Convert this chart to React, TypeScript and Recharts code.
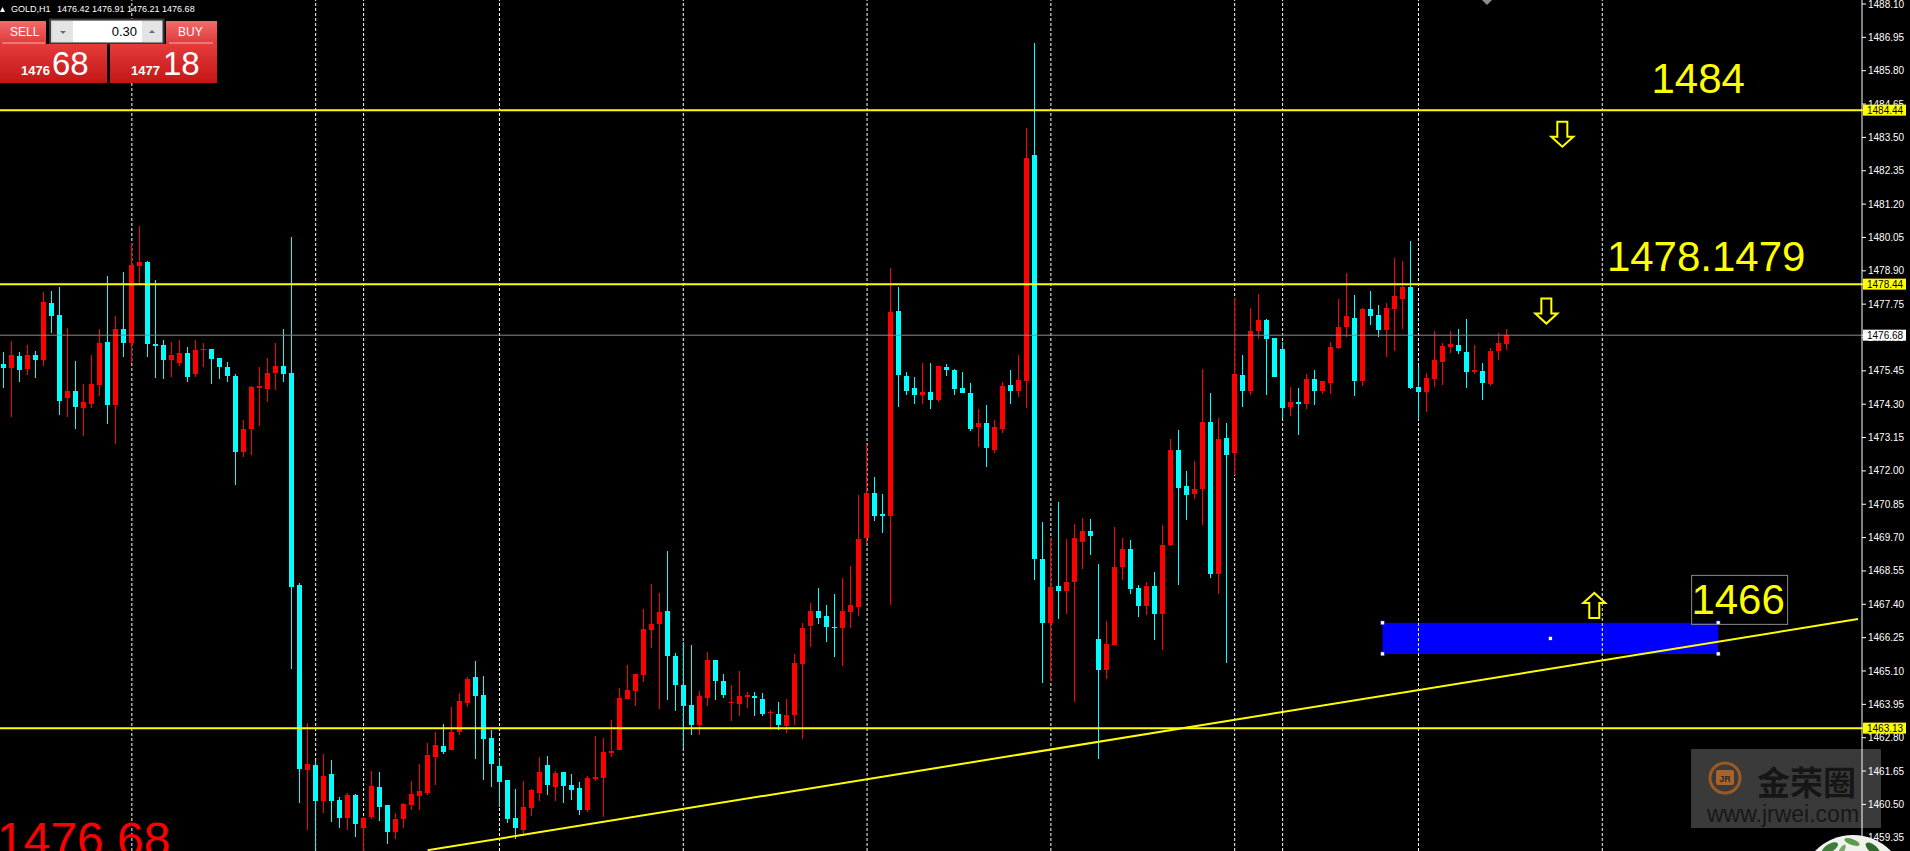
import React from 'react';
import {
  ComposedChart,
  Bar,
  XAxis,
  YAxis,
  ReferenceLine,
  ReferenceArea,
  ReferenceDot,
} from 'recharts';

const W = 1910;
const H = 851;
const FONT = '"Liberation Sans", Arial, sans-serif';

// GOLD H1 candles, oldest first
const openPrices = [
  1475.68, 1475.56, 1475.96, 1475.51, 1475.99, 1475.82, 1477.79, 1477.37, 1474.52, 1474.75,
  1474.18, 1474.32, 1474.97, 1476.43, 1474.28, 1476.9, 1476.41, 1479.08, 1479.2, 1476.38,
  1476.33, 1475.83, 1475.73, 1476.07, 1475.35, 1476.18, 1476.2, 1475.89, 1475.58, 1475.27,
  1472.66, 1473.44, 1474.86, 1474.84, 1475.38, 1475.61, 1475.38, 1468.07, 1461.69, 1461.86,
  1460.63, 1461.55, 1460.65, 1460.04, 1460.83, 1459.7, 1460.08, 1461.1, 1460.48, 1459.56,
  1459.98, 1460.48, 1460.79, 1460.89, 1462.14, 1462.52, 1462.38, 1463.0, 1464.0, 1464.9,
  1464.28, 1462.79, 1461.83, 1461.34, 1460.03, 1459.63, 1460.39, 1460.91, 1461.86, 1461.1,
  1461.62, 1461.17, 1461.07, 1460.32, 1461.38, 1461.41, 1462.27, 1462.38, 1464.14, 1464.41,
  1464.96, 1466.52, 1466.72, 1467.17, 1465.62, 1464.62, 1463.92, 1463.25, 1464.18, 1465.47,
  1464.77, 1464.0, 1463.97, 1464.19, 1464.25, 1464.14, 1463.65, 1463.63, 1463.19, 1463.59,
  1465.35, 1466.66, 1467.17, 1466.99, 1466.63, 1466.57, 1467.12, 1467.32, 1469.68, 1471.25,
  1470.5, 1470.46, 1477.52, 1475.27, 1474.87, 1474.63, 1474.72, 1474.43, 1475.58, 1475.49,
  1474.87, 1474.68, 1473.5, 1473.66, 1472.73, 1473.46, 1474.96, 1474.74, 1475.11, 1482.89,
  1468.95, 1466.77, 1468.03, 1467.87, 1468.18, 1469.55, 1469.93, 1466.2, 1465.13, 1466.01,
  1468.69, 1469.31, 1467.96, 1467.33, 1468.04, 1467.06, 1469.45, 1472.72, 1471.48, 1471.21,
  1471.39, 1473.69, 1468.45, 1473.13, 1472.61, 1475.31, 1474.76, 1476.83, 1477.21, 1476.59,
  1476.21, 1474.22, 1474.37, 1474.32, 1475.18, 1474.76, 1475.03, 1476.25, 1476.96, 1477.28,
  1475.1, 1477.58, 1477.38, 1476.87, 1477.58, 1477.94, 1478.35, 1474.9, 1474.73, 1475.18,
  1475.76, 1476.27, 1476.34, 1476.1, 1475.42, 1475.44, 1474.99, 1476.14, 1476.38,
];
const highPrices = [
  1476.1, 1476.48, 1476.1, 1476.34, 1476.13, 1478.17, 1478.2, 1478.34, 1476.92, 1475.79,
  1474.99, 1475.99, 1476.88, 1478.72, 1477.34, 1478.86, 1479.86, 1480.45, 1479.24, 1478.58,
  1476.51, 1476.44, 1476.51, 1476.28, 1476.51, 1476.41, 1476.2, 1475.89, 1475.74, 1475.33,
  1473.75, 1474.92, 1475.57, 1475.89, 1476.41, 1476.9, 1480.07, 1468.13, 1463.3, 1461.99,
  1462.24, 1462.03, 1460.75, 1460.89, 1460.87, 1460.08, 1461.65, 1461.62, 1460.48, 1460.22,
  1460.56, 1461.31, 1461.9, 1462.62, 1463.0, 1463.28, 1463.86, 1464.33, 1464.9, 1465.45,
  1464.93, 1463.07, 1462.1, 1461.34, 1461.03, 1461.31, 1461.03, 1462.14, 1462.17, 1461.65,
  1461.62, 1461.55, 1461.28, 1461.48, 1462.86, 1462.79, 1463.41, 1464.52, 1465.31, 1465.0,
  1467.24, 1468.1, 1467.79, 1469.24, 1465.72, 1466.09, 1465.98, 1464.4, 1465.75, 1465.47,
  1464.99, 1464.62, 1465.11, 1464.38, 1464.38, 1464.34, 1463.76, 1464.03, 1464.14, 1465.68,
  1466.75, 1467.45, 1467.96, 1467.37, 1467.76, 1468.31, 1468.73, 1471.18, 1472.93, 1471.8,
  1471.21, 1478.99, 1478.34, 1475.42, 1475.23, 1475.73, 1475.73, 1475.62, 1475.69, 1475.52,
  1475.42, 1475.03, 1474.14, 1474.28, 1473.75, 1475.07, 1475.49, 1476.0, 1483.82, 1486.76,
  1470.24, 1469.68, 1470.94, 1469.66, 1470.17, 1470.37, 1470.34, 1468.8, 1466.83, 1470.07,
  1469.68, 1469.61, 1468.05, 1468.16, 1468.51, 1470.14, 1473.11, 1473.41, 1471.98, 1472.35,
  1475.52, 1474.69, 1473.83, 1473.66, 1477.95, 1476.0, 1477.62, 1478.11, 1477.25, 1476.59,
  1476.45, 1474.9, 1474.86, 1475.35, 1475.48, 1475.1, 1476.45, 1477.94, 1478.83, 1478.07,
  1477.62, 1478.21, 1477.73, 1477.79, 1479.35, 1479.24, 1479.93, 1475.61, 1475.38, 1476.83,
  1476.42, 1476.83, 1476.89, 1477.24, 1476.34, 1475.72, 1476.25, 1476.76, 1476.89,
];
const lowPrices = [
  1474.87, 1473.87, 1475.07, 1475.3, 1475.21, 1475.63, 1476.76, 1473.94, 1473.87, 1473.45,
  1473.21, 1474.18, 1474.59, 1473.62, 1472.94, 1475.94, 1475.73, 1478.41, 1475.94, 1475.21,
  1475.17, 1475.24, 1475.6, 1475.05, 1475.24, 1475.57, 1475.01, 1475.18, 1475.05, 1471.52,
  1472.47, 1472.56, 1473.55, 1474.36, 1474.8, 1475.05, 1465.18, 1460.56, 1459.6, 1458.8,
  1460.22, 1459.91, 1459.67, 1459.6, 1459.36, 1458.8, 1460.01, 1459.94, 1459.15, 1459.29,
  1459.7, 1460.32, 1460.29, 1460.83, 1461.17, 1462.24, 1462.38, 1462.9, 1463.86, 1462.07,
  1461.34, 1461.1, 1460.41, 1459.86, 1459.29, 1459.42, 1460.11, 1460.6, 1460.83, 1460.63,
  1460.56, 1460.65, 1460.15, 1460.25, 1461.31, 1460.07, 1462.14, 1462.38, 1464.14, 1463.9,
  1464.72, 1465.9, 1463.79, 1464.1, 1463.73, 1462.45, 1462.88, 1462.88, 1463.91, 1464.1,
  1464.18, 1463.39, 1463.56, 1463.83, 1463.54, 1463.54, 1463.06, 1463.06, 1462.97, 1463.24,
  1462.75, 1465.93, 1466.72, 1466.11, 1465.57, 1465.26, 1466.57, 1466.99, 1469.5, 1470.26,
  1469.86, 1467.39, 1474.21, 1474.61, 1474.32, 1474.32, 1474.15, 1474.39, 1475.27, 1474.61,
  1474.67, 1473.37, 1472.84, 1472.13, 1472.6, 1473.3, 1474.3, 1474.56, 1474.17, 1468.25,
  1464.67, 1464.76, 1466.88, 1467.08, 1464.03, 1468.6, 1469.09, 1462.06, 1464.83, 1466.0,
  1468.25, 1467.74, 1466.97, 1467.04, 1466.18, 1465.81, 1469.41, 1468.07, 1470.32, 1471.04,
  1470.14, 1468.32, 1467.74, 1465.39, 1471.85, 1474.2, 1474.6, 1476.56, 1474.6, 1475.24,
  1473.83, 1473.9, 1473.23, 1474.14, 1474.28, 1474.66, 1474.66, 1476.22, 1476.62, 1474.57,
  1474.92, 1477.04, 1476.62, 1475.93, 1476.14, 1476.91, 1474.81, 1473.79, 1474.03, 1474.9,
  1474.97, 1476.08, 1476.04, 1474.86, 1475.35, 1474.45, 1474.93, 1475.83, 1476.18,
];
const closePrices = [
  1475.55, 1475.99, 1475.48, 1475.99, 1475.82, 1477.82, 1477.34, 1474.42, 1474.75, 1474.21,
  1474.37, 1474.99, 1476.41, 1474.28, 1476.89, 1476.41, 1479.09, 1479.2, 1476.39, 1476.29,
  1475.83, 1475.99, 1476.07, 1475.24, 1476.17, 1476.2, 1475.86, 1475.57, 1475.26, 1472.66,
  1473.44, 1474.89, 1474.92, 1475.38, 1475.61, 1475.35, 1467.98, 1461.72, 1461.89, 1460.63,
  1461.48, 1460.63, 1460.04, 1460.83, 1459.84, 1460.03, 1461.14, 1460.42, 1459.56, 1460.0,
  1460.52, 1460.86, 1460.96, 1462.21, 1462.55, 1462.31, 1463.0, 1464.07, 1464.83, 1464.24,
  1462.76, 1461.9, 1461.28, 1460.0, 1459.7, 1460.41, 1461.0, 1461.62, 1461.17, 1461.58,
  1461.14, 1461.0, 1460.32, 1461.41, 1461.45, 1462.31, 1462.34, 1464.17, 1464.45, 1465.0,
  1466.55, 1466.72, 1467.14, 1465.62, 1464.62, 1463.88, 1463.25, 1464.25, 1465.47, 1464.74,
  1464.28, 1464.03, 1464.25, 1464.27, 1464.16, 1463.61, 1463.7, 1463.24, 1463.59, 1465.38,
  1466.59, 1467.17, 1466.94, 1466.63, 1466.57, 1467.17, 1467.36, 1469.64, 1471.23, 1470.46,
  1470.44, 1477.48, 1475.29, 1474.74, 1474.63, 1474.72, 1474.43, 1475.62, 1475.47, 1474.81,
  1474.67, 1473.46, 1473.66, 1472.78, 1473.51, 1474.92, 1474.74, 1475.14, 1482.8, 1468.95,
  1466.77, 1467.99, 1467.87, 1468.18, 1469.7, 1469.93, 1469.77, 1465.13, 1466.04, 1468.69,
  1469.31, 1467.93, 1467.33, 1468.04, 1467.06, 1469.45, 1472.72, 1471.42, 1471.17, 1471.39,
  1473.69, 1468.45, 1473.11, 1472.55, 1475.35, 1474.76, 1476.83, 1477.21, 1476.56, 1475.24,
  1474.18, 1474.37, 1474.32, 1475.18, 1474.76, 1475.1, 1476.27, 1476.96, 1477.34, 1475.1,
  1477.58, 1477.34, 1476.87, 1477.62, 1478.03, 1478.35, 1474.86, 1474.73, 1475.21, 1475.83,
  1476.31, 1476.38, 1476.14, 1475.42, 1475.48, 1475.03, 1476.14, 1476.42, 1476.68,
];

// empty hourly slots to the right of the last bar (chart shift)
const FUTURE_SLOTS = 44;

const priceTicks = [
  1488.1, 1486.95, 1485.8, 1484.65, 1483.5, 1482.35, 1481.2, 1480.05, 1478.9, 1477.75,
  1476.6, 1475.45, 1474.3, 1473.15, 1472.0, 1470.85, 1469.7, 1468.55, 1467.4, 1466.25,
  1465.1, 1463.95, 1462.8, 1461.65, 1460.5, 1459.35,
];
const PRICE_MIN = 1458.893;
const PRICE_MAX = 1488.238;

// bar indexes where the time grid falls
const gridBars = [16, 39, 45, 62, 85, 108, 131, 154, 160, 177, 200];

const resistanceHigh = 1484.44;
const resistanceLow = 1478.44;
const supportLine = 1463.13;
const bidPrice = 1476.68;

// price tags drawn on the axis
const tagPrices = [bidPrice, resistanceHigh, resistanceLow, supportLine];
const tagColors = ['#ffffff', '#ffff00', '#ffff00', '#ffff00'];

const trendStart = { i: 53, p: 1458.92 };
const trendEnd = { i: 232, p: 1466.89 };

const zoneFrom = 173;
const zoneTo = 214;
const zoneLow = 1465.69;
const zoneHigh = 1466.76;

const arrowMarks = [
  { i: 195, p: 1483.61, dir: 'down' },
  { i: 193, p: 1477.51, dir: 'down' },
  { i: 199, p: 1467.36, dir: 'up' },
];
const noteMarks = [
  { i: 212, p: 1485.02, text: '1484', boxed: false },
  { i: 213, p: 1478.9, text: '1478.1479', boxed: false },
  { i: 217, p: 1467.07, text: '1466', boxed: true },
];

const rows = [
  ...openPrices.map((o, i) => ({ i, o, h: highPrices[i], l: lowPrices[i], c: closePrices[i] })),
  ...Array.from({ length: FUTURE_SLOTS }, (_, k) => ({ i: openPrices.length + k, o: null, h: null, l: null, c: null })),
];

function Candle(props: any) {
  const { x, y, width, height, payload } = props;
  if (!payload || payload.o == null) return null;
  const top = Math.min(y, y + height);
  const span = Math.abs(height);
  const k = span / (payload.h - payload.l);
  const up = payload.c >= payload.o;
  const color = up ? '#ff0000' : '#00ffff';
  const cx = Math.floor(x + width / 2);
  const bodyTop = top + (payload.h - Math.max(payload.o, payload.c)) * k;
  const bodyH = Math.max(1, Math.abs(payload.c - payload.o) * k);
  return (
    <g shapeRendering="crispEdges">
      <rect x={cx} y={top} width={1} height={Math.max(1, span)} fill={color} />
      <rect x={cx - 2} y={bodyTop} width={5} height={bodyH} fill={color} />
    </g>
  );
}

function PriceTick(props: any) {
  const { x, y, payload } = props;
  const v = payload.value as number;
  const t = tagPrices.indexOf(v);
  if (t >= 0) {
    return (
      <g>
        <rect x={x - 5} y={y - 5.5} width={43} height={11} fill={tagColors[t]} />
        <text x={x - 1} y={y + 3.5} fontSize={10} fontFamily={FONT} fill="#000">
          {v.toFixed(2)}
        </text>
      </g>
    );
  }
  return (
    <text x={x} y={y} dy="0.355em" fontSize={10} fontFamily={FONT} fill="#ffffff">
      {v.toFixed(2)}
    </text>
  );
}

function Arrow({ cx, cy, dir }: { cx: number; cy: number; dir: string }) {
  const s = dir === 'down' ? 1 : -1;
  const t = cy - 12.5 * s;
  const m = cy + 2.5 * s;
  const b = cy + 12.5 * s;
  const d = `M${cx - 5},${t} L${cx + 5},${t} L${cx + 5},${m} L${cx + 11},${m} L${cx},${b} L${cx - 11},${m} L${cx - 5},${m} Z`;
  return <path d={d} fill="#000" stroke="#ffff00" strokeWidth={2} strokeLinejoin="miter" />;
}

function Note({ cx, cy, text, boxed }: { cx: number; cy: number; text: string; boxed: boolean }) {
  return (
    <g>
      {boxed && <rect x={cx - 46.5} y={cy - 38.5} width={96} height={49} fill="none" stroke="#8a8a8a" strokeWidth={1} />}
      <text x={cx} y={cy} textAnchor="middle" fontSize={42} fontFamily={FONT} fill="#ffff00">
        {text}
      </text>
    </g>
  );
}

function Zone(props: any) {
  const { x, y, width, height } = props;
  const pts = [
    [x, y],
    [x, y + height],
    [x + width, y],
    [x + width, y + height],
    [x + width / 2, y + height / 2],
  ];
  return (
    <g>
      <rect x={x} y={y} width={width} height={height} fill="#0000ff" />
      {pts.map(([px, py], n) => (
        <rect key={n} x={px - 2} y={py - 2} width={4} height={4} fill="#ffffff" stroke="#0000a0" strokeWidth={0.6} />
      ))}
    </g>
  );
}

function TradePanel() {
  return (
    <g fontFamily={FONT}>
      <defs>
        <linearGradient id="btnRed" x1="0" y1="0" x2="0" y2="1">
          <stop offset="0" stopColor="#f46a6a" />
          <stop offset="1" stopColor="#dd3a3a" />
        </linearGradient>
        <linearGradient id="boxRed" x1="0" y1="0" x2="0" y2="1">
          <stop offset="0" stopColor="#e53b3b" />
          <stop offset="1" stopColor="#c41616" />
        </linearGradient>
      </defs>
      <rect x={0} y={21} width={46} height={23} fill="url(#btnRed)" />
      <line x1={2} y1={43} x2={45} y2={43} stroke="#f7b0b0" />
      <text x={10} y={36} fontSize={12} fill="#fff">SELL</text>
      <rect x={50} y={19.5} width={113.5} height={24} fill="#d9d9d9" stroke="#3a3a3a" strokeWidth={2} />
      <rect x={53} y={21.5} width={20} height={20} fill="#e4e4e4" />
      <path d="M60,31 L66,31 L63,34 Z" fill="#5a6b8c" />
      <rect x={73} y={21} width={69} height={21} fill="#ffffff" />
      <text x={137} y={36} fontSize={13} fill="#000" textAnchor="end">0.30</text>
      <rect x={142} y={21.5} width={20} height={20} fill="#e4e4e4" />
      <path d="M149,33 L155,33 L152,30 Z" fill="#5a6b8c" />
      <rect x={166} y={21} width={51} height={23} fill="url(#btnRed)" />
      <line x1={169} y1={43} x2={213} y2={43} stroke="#f7b0b0" />
      <text x={178} y={36} fontSize={12} fill="#fff">BUY</text>
      <rect x={0} y={44} width={107} height={39} fill="url(#boxRed)" />
      <text x={21} y={75} fontSize={13} fontWeight="bold" fill="#fff">1476</text>
      <text x={52} y={75} fontSize={33} fill="#fff">68</text>
      <rect x={110} y={44} width={107} height={39} fill="url(#boxRed)" />
      <text x={131} y={75} fontSize={13} fontWeight="bold" fill="#fff">1477</text>
      <text x={163} y={75} fontSize={33} fill="#fff">18</text>
    </g>
  );
}

export default function App() {
  return (
    <div style={{ position: 'absolute', left: 0, top: 0, width: W, height: H, background: '#000', overflow: 'hidden' }}>
      <svg width={W} height={H} style={{ position: 'absolute', left: 0, top: 0 }}>
        <rect x={1691} y={749} width={190} height={79} fill="#3a3a3a" />
        <circle cx={1725} cy={778} r={15} fill="none" stroke="#9a5a22" strokeWidth={3} />
        <rect x={1716} y={770} width={18} height={15} rx={2} fill="#a8642a" />
        <text x={1725} y={782} fontSize={9} fontWeight="bold" textAnchor="middle" fill="#2a2a2a" fontFamily={FONT}>JR</text>
        <text x={1757} y={795} fontSize={33} fontWeight="bold" fill="#161616" fontFamily='"Noto Sans CJK SC", sans-serif'>金荣圈</text>
        <text x={1707} y={822} fontSize={23} fill="#181818" fontFamily={FONT}>www.jrwei.com</text>
      </svg>
      <div style={{ position: 'absolute', left: 0, top: 0 }}>
        <ComposedChart width={W} height={H} data={rows} margin={{ top: 0, right: 0, bottom: 0, left: 0 }}>
          <XAxis dataKey="i" type="category" hide />
          <YAxis
            orientation="right"
            width={48}
            domain={[PRICE_MIN, PRICE_MAX]}
            allowDataOverflow
            ticks={[...priceTicks, ...tagPrices]}
            interval={0}
            tick={PriceTick}
            tickLine={{ stroke: '#ffffff' }}
            axisLine={{ stroke: '#ffffff' }}
            tickSize={4}
            tickMargin={2}
          />
          <ReferenceArea x1={zoneFrom} x2={zoneTo} y1={zoneLow} y2={zoneHigh} shape={Zone} zIndex={-80} />
          {gridBars.map((g) => (
            <ReferenceLine key={`g${g}`} x={g} stroke="#ffffff" strokeDasharray="3 2" strokeWidth={1} zIndex={-60} />
          ))}
          <Bar
            dataKey={(d: any) => (d.o == null ? null : [d.l, d.h])}
            isAnimationActive={false}
            shape={Candle}
          />
          <ReferenceLine y={bidPrice} stroke="#8c8c8c" strokeWidth={1} />
          <ReferenceLine y={resistanceHigh} stroke="#ffff00" strokeWidth={2} />
          <ReferenceLine y={resistanceLow} stroke="#ffff00" strokeWidth={2} />
          <ReferenceLine y={supportLine} stroke="#ffff00" strokeWidth={2} />
          <ReferenceLine
            segment={[
              { x: trendStart.i, y: trendStart.p },
              { x: trendEnd.i, y: trendEnd.p },
            ]}
            stroke="#ffff00"
            strokeWidth={2}
            ifOverflow="hidden"
          />
          {arrowMarks.map((a, n) => (
            <ReferenceDot key={`a${n}`} x={a.i} y={a.p} shape={(p: any) => <Arrow cx={p.cx} cy={p.cy} dir={a.dir} />} />
          ))}
          {noteMarks.map((m, n) => (
            <ReferenceDot
              key={`n${n}`}
              x={m.i}
              y={m.p}
              shape={(p: any) => <Note cx={p.cx} cy={p.cy} text={m.text} boxed={m.boxed} />}
            />
          ))}
        </ComposedChart>
      </div>
      <svg width={W} height={H} style={{ position: 'absolute', left: 0, top: 0, pointerEvents: 'none' }}>
        <path d="M0,12 L2.5,7 L5,12 Z" fill="#ffffff" />
        <text x={11} y={12} fontSize={9} fill="#ffffff" fontFamily={FONT}>GOLD,H1</text>
        <text x={57} y={12} fontSize={9} fill="#ffffff" fontFamily={FONT}>1476.42 1476.91 1476.21 1476.68</text>
        <TradePanel />
        <text x={-3} y={856} fontSize={48} fill="#ff0000" fontFamily={FONT}>1476.68</text>
        <path d="M1482,0 L1492,0 L1487,5 Z" fill="#8c8c8c" />
        <circle cx={1853} cy={888} r={53} fill="#f0f2ee" />
        <ellipse cx={1830} cy={848} rx={9} ry={4} fill="#3f7d3a" transform="rotate(-30 1830 848)" />
        <ellipse cx={1852} cy={842} rx={8} ry={3} fill="#5d9a4f" transform="rotate(20 1852 842)" />
        <ellipse cx={1873} cy={849} rx={9} ry={4} fill="#2f6a2c" transform="rotate(40 1873 849)" />
        <ellipse cx={1842} cy={850} rx={6} ry={2.5} fill="#7aa86a" transform="rotate(-60 1842 850)" />
      </svg>
    </div>
  );
}
